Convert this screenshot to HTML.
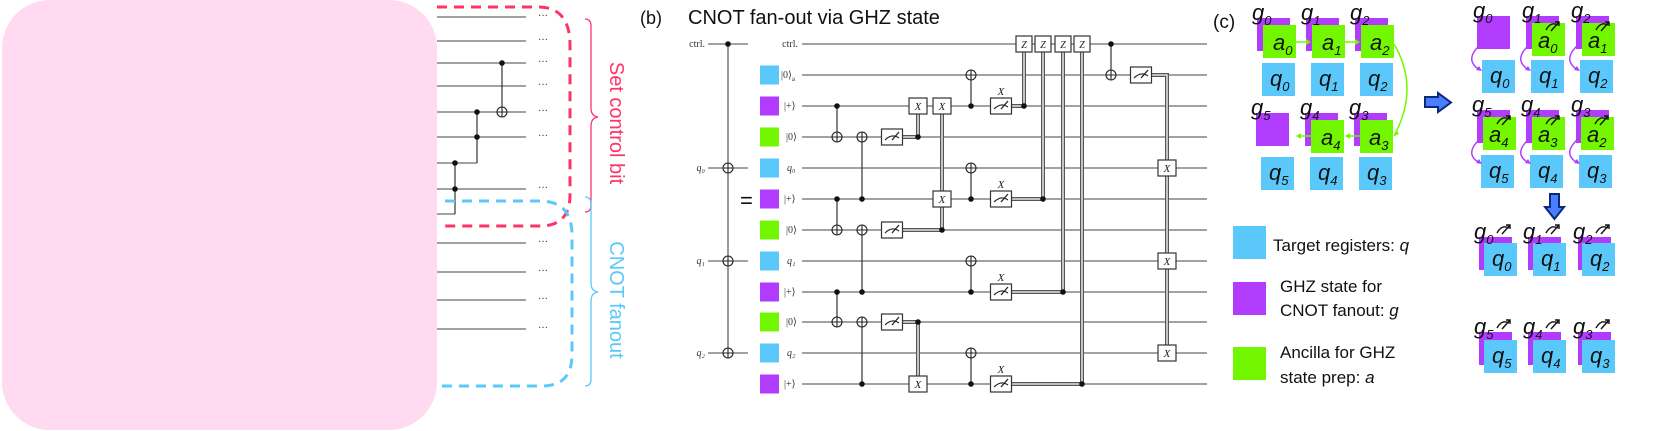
<!DOCTYPE html>
<html><head><meta charset="utf-8"><style>
html,body{margin:0;padding:0;background:#fff}
svg{display:block}
.w{stroke:#444;stroke-width:1.1;fill:none}
.t{font-family:"Liberation Serif",serif;font-size:10px;fill:#333}
.s{font-family:"Liberation Sans",sans-serif}
.i{font-family:"Liberation Sans",sans-serif;font-style:italic;font-size:22px;fill:#111}
.cl1{stroke:#555;stroke-width:4;fill:none}
.cl2{stroke:#fff;stroke-width:1.3;fill:none}
</style></head><body>
<svg width="1660" height="431" viewBox="0 0 1660 431" xmlns="http://www.w3.org/2000/svg">
<defs>
<g id="op"><circle r="5" fill="#fff" stroke="#222" stroke-width="1.1"/><path d="M-5 0H5M0 -5V5" stroke="#222" stroke-width="1.1"/></g>
<g id="ms"><rect x="-10.5" y="-8" width="21" height="16" fill="#fff" stroke="#333" stroke-width="1.2"/><path d="M-7 3 Q0 -4 7 1" stroke="#222" stroke-width="1.1" fill="none"/><path d="M0 3 L7 -5" stroke="#222" stroke-width="1.3"/></g>
<g id="xb"><rect x="-9" y="-8" width="18" height="16" fill="#fff" stroke="#333" stroke-width="1.2"/><text x="0" y="4" text-anchor="middle" font-family="Liberation Serif,serif" font-style="italic" font-size="11" fill="#222">X</text></g>
<g id="zb"><rect x="-8" y="-8" width="16" height="16" fill="#fff" stroke="#333" stroke-width="1.2"/><text x="0" y="4" text-anchor="middle" font-family="Liberation Serif,serif" font-style="italic" font-size="10" fill="#222">Z</text></g>
<g id="mt"><path d="M0 6 Q5 -3 12 1" stroke="#111" stroke-width="1.4" fill="none"/><path d="M5 7 L13 -2 M9 -2 H13 V2" stroke="#111" stroke-width="1.4" fill="none"/></g>
</defs>

<!-- Panel a -->
<rect x="2" y="0" width="435" height="430" rx="48" fill="#ffdaf0"/>
<g class="w">
<path d="M437 17H526M437 41H526M437 63H526M437 86H526M437 112H526M437 137H526M437 163H477M437 189H526M437 214H455M437 243H526M437 272H526M437 300H526M437 329H526"/>
<path d="M502 63V112M477 112V163M455 163V214" stroke="#222"/>
</g>
<g fill="#111"><circle cx="502" cy="63" r="2.8"/><circle cx="477" cy="112" r="2.8"/><circle cx="477" cy="137" r="2.8"/><circle cx="455" cy="163" r="2.8"/><circle cx="455" cy="189" r="2.8"/></g>
<use href="#op" x="502" y="112"/>
<g class="t" font-size="9">
<text x="538" y="19">···</text><text x="538" y="43">···</text><text x="538" y="65">···</text><text x="538" y="88">···</text><text x="538" y="114">···</text><text x="538" y="139">···</text><text x="538" y="191">···</text><text x="538" y="245">···</text><text x="538" y="274">···</text><text x="538" y="302">···</text><text x="538" y="331">···</text>
</g>
<path d="M437 7H538Q570 7 570 45V195Q570 226 540 226H445" stroke="#ff3366" stroke-width="3" fill="none" stroke-dasharray="10 7"/>
<path d="M445 201H540Q572 201 572 235V355Q572 386 542 386H437" stroke="#5ac8fa" stroke-width="3" fill="none" stroke-dasharray="10 7"/>
<path d="M585 19Q591 19 591 26V108Q591 116 598 117Q591 118 591 126V205Q591 212 585 212" stroke="#ff3366" stroke-width="1.3" fill="none"/>
<path d="M585 197Q591 197 591 204V283Q591 291 598 292Q591 293 591 301V379Q591 386 585 386" stroke="#5ac8fa" stroke-width="1.3" fill="none"/>
<text class="s" transform="translate(610,123) rotate(90)" text-anchor="middle" font-size="20" fill="#ff3366">Set control bit</text>
<text class="s" transform="translate(610,300) rotate(90)" text-anchor="middle" font-size="20" fill="#5ac8fa">CNOT fanout</text>

<!-- Panel b -->
<text class="s" x="640" y="24" font-size="18" fill="#111">(b)</text>
<text class="s" x="688" y="24" font-size="20" fill="#111">CNOT fan-out via GHZ state</text>
<text class="t" x="705" y="47" text-anchor="end">ctrl.</text>
<text class="t" x="705" y="171" text-anchor="end" font-style="italic">q₀</text>
<text class="t" x="705" y="264" text-anchor="end" font-style="italic">q₁</text>
<text class="t" x="705" y="356" text-anchor="end" font-style="italic">q₂</text>
<path class="w" d="M708 44H748M708 168H748M708 261H748M708 353H748M728 44V353" stroke="#222"/>
<circle cx="728" cy="44" r="2.8" fill="#111"/>
<use href="#op" x="728" y="168"/><use href="#op" x="728" y="261"/><use href="#op" x="728" y="353"/>
<text class="s" x="740" y="208" font-size="22" fill="#111">=</text>
<g>
<rect x="760" y="65.5" width="19" height="19" fill="#5ac8fa"/>
<rect x="760" y="96.5" width="19" height="19" fill="#b23cfd"/>
<rect x="760" y="127.5" width="19" height="19" fill="#72f700"/>
<rect x="760" y="158.5" width="19" height="19" fill="#5ac8fa"/>
<rect x="760" y="189.5" width="19" height="19" fill="#b23cfd"/>
<rect x="760" y="220.5" width="19" height="19" fill="#72f700"/>
<rect x="760" y="251.5" width="19" height="19" fill="#5ac8fa"/>
<rect x="760" y="282.5" width="19" height="19" fill="#b23cfd"/>
<rect x="760" y="312.5" width="19" height="19" fill="#72f700"/>
<rect x="760" y="343.5" width="19" height="19" fill="#5ac8fa"/>
<rect x="760" y="374.5" width="19" height="19" fill="#b23cfd"/>
</g>
<g class="t">
<text x="798" y="47" text-anchor="end">ctrl.</text>
<text x="781" y="78">|0⟩<tspan font-size="7" dy="3">a</tspan></text>
<text x="784" y="109">|+⟩</text><text x="786" y="140">|0⟩</text><text x="787" y="171" font-style="italic">q₀</text>
<text x="784" y="202">|+⟩</text><text x="786" y="233">|0⟩</text><text x="787" y="264" font-style="italic">q₁</text>
<text x="784" y="295">|+⟩</text><text x="786" y="325">|0⟩</text><text x="787" y="356" font-style="italic">q₂</text>
<text x="784" y="387">|+⟩</text>
</g>
<path class="w" d="M802 44H1207M802 75H1207M802 106H1207M802 137H1207M802 168H1207M802 199H1207M802 230H1207M802 261H1207M802 292H1207M802 322H1207M802 353H1207M802 384H1207"/>
<!-- quantum verticals -->
<path d="M837 106V137M837 199V230M837 292V322M862 137V199M862 230V292M862 322V384M971 75V106M971 168V199M971 261V292M971 353V384M1111 44V75" stroke="#333" stroke-width="1.2" fill="none"/>
<!-- classical -->
<g>
<path class="cl1" d="M903 137H918V114M903 230H942V114M903 322H918V376M1012 106H1024V52M1012 199H1043V52M1012 292H1063V52M1012 384H1082V52M1152 75H1167V353"/>
<path class="cl2" d="M903 137H918V114M903 230H942V114M903 322H918V376M1012 106H1024V52M1012 199H1043V52M1012 292H1063V52M1012 384H1082V52M1152 75H1167V353"/>
</g>
<g fill="#111">
<circle cx="837" cy="106" r="2.8"/><circle cx="837" cy="199" r="2.8"/><circle cx="837" cy="292" r="2.8"/>
<circle cx="862" cy="199" r="2.8"/><circle cx="862" cy="292" r="2.8"/><circle cx="862" cy="384" r="2.8"/>
<circle cx="971" cy="106" r="2.8"/><circle cx="971" cy="199" r="2.8"/><circle cx="971" cy="292" r="2.8"/><circle cx="971" cy="384" r="2.8"/>
<circle cx="1111" cy="44" r="2.8"/>
<circle cx="918" cy="137" r="2.8"/><circle cx="942" cy="230" r="2.8"/><circle cx="918" cy="322" r="2.8"/>
<circle cx="1024" cy="106" r="2.8"/><circle cx="1043" cy="199" r="2.8"/><circle cx="1063" cy="292" r="2.8"/><circle cx="1082" cy="384" r="2.8"/>
</g>
<use href="#op" x="837" y="137"/><use href="#op" x="837" y="230"/><use href="#op" x="837" y="322"/>
<use href="#op" x="862" y="137"/><use href="#op" x="862" y="230"/><use href="#op" x="862" y="322"/>
<use href="#op" x="971" y="75"/><use href="#op" x="971" y="168"/><use href="#op" x="971" y="261"/><use href="#op" x="971" y="353"/>
<use href="#op" x="1111" y="75"/>
<use href="#ms" x="892" y="137"/><use href="#ms" x="892" y="230"/><use href="#ms" x="892" y="322"/>
<use href="#ms" x="1001" y="106"/><use href="#ms" x="1001" y="199"/><use href="#ms" x="1001" y="292"/><use href="#ms" x="1001" y="384"/>
<use href="#ms" x="1141" y="75"/>
<g font-family="Liberation Serif,serif" font-style="italic" font-size="11" fill="#222" text-anchor="middle">
<text x="1001" y="95">X</text><text x="1001" y="188">X</text><text x="1001" y="281">X</text><text x="1001" y="373">X</text>
</g>
<use href="#xb" x="918" y="106"/><use href="#xb" x="942" y="106"/><use href="#xb" x="942" y="199"/><use href="#xb" x="918" y="384"/>
<use href="#xb" x="1167" y="168"/><use href="#xb" x="1167" y="261"/><use href="#xb" x="1167" y="353"/>
<use href="#zb" x="1024" y="44"/><use href="#zb" x="1043" y="44"/><use href="#zb" x="1063" y="44"/><use href="#zb" x="1082" y="44"/>

<!-- Panel c -->
<text class="s" x="1213" y="28" font-size="19" fill="#111">(c)</text>
<g>
<rect x="1257" y="18" width="33" height="33" fill="#b23cfd"/><rect x="1306" y="18" width="33" height="33" fill="#b23cfd"/><rect x="1355" y="18" width="33" height="33" fill="#b23cfd"/>
<rect x="1263" y="25" width="33" height="33" fill="#72f700"/><rect x="1312" y="25" width="33" height="33" fill="#72f700"/><rect x="1361" y="25" width="33" height="33" fill="#72f700"/>
<rect x="1262" y="63" width="33" height="33" fill="#5ac8fa"/><rect x="1311" y="63" width="33" height="33" fill="#5ac8fa"/><rect x="1360" y="63" width="33" height="33" fill="#5ac8fa"/>
<rect x="1256" y="113" width="33" height="33" fill="#b23cfd"/><rect x="1305" y="113" width="33" height="33" fill="#b23cfd"/><rect x="1354" y="113" width="33" height="33" fill="#b23cfd"/>
<rect x="1311" y="120" width="33" height="33" fill="#72f700"/><rect x="1360" y="120" width="33" height="33" fill="#72f700"/>
<rect x="1261" y="157" width="33" height="33" fill="#5ac8fa"/><rect x="1310" y="157" width="33" height="33" fill="#5ac8fa"/><rect x="1359" y="157" width="33" height="33" fill="#5ac8fa"/>
</g>
<g stroke="#72f700" stroke-width="1.5" fill="none">
<path d="M1296 42H1309M1345 42H1358M1394 44Q1420 88 1394 136M1360 136H1347M1311 136H1298"/>
</g>
<g fill="#72f700"><path d="M1311 42l-5-3v6z"/><path d="M1360 42l-5-3v6z"/><path d="M1394 136l2-6 3 4z"/><path d="M1345 136l5-3v6z"/><path d="M1296 136l5-3v6z"/></g>
<g class="i">
<text x="1252" y="20">g<tspan font-size="13" dy="5">0</tspan></text><text x="1301" y="20">g<tspan font-size="13" dy="5">1</tspan></text><text x="1350" y="20">g<tspan font-size="13" dy="5">2</tspan></text>
<text x="1273" y="50">a<tspan font-size="13" dy="5">0</tspan></text><text x="1322" y="50">a<tspan font-size="13" dy="5">1</tspan></text><text x="1370" y="50">a<tspan font-size="13" dy="5">2</tspan></text>
<text x="1270" y="86">q<tspan font-size="13" dy="5">0</tspan></text><text x="1319" y="86">q<tspan font-size="13" dy="5">1</tspan></text><text x="1368" y="86">q<tspan font-size="13" dy="5">2</tspan></text>
<text x="1251" y="115">g<tspan font-size="13" dy="5">5</tspan></text><text x="1300" y="115">g<tspan font-size="13" dy="5">4</tspan></text><text x="1349" y="115">g<tspan font-size="13" dy="5">3</tspan></text>
<text x="1321" y="145">a<tspan font-size="13" dy="5">4</tspan></text><text x="1369" y="145">a<tspan font-size="13" dy="5">3</tspan></text>
<text x="1269" y="180">q<tspan font-size="13" dy="5">5</tspan></text><text x="1318" y="180">q<tspan font-size="13" dy="5">4</tspan></text><text x="1367" y="180">q<tspan font-size="13" dy="5">3</tspan></text>
</g>
<!-- legend -->
<rect x="1233" y="226" width="33" height="33" fill="#5ac8fa"/>
<rect x="1233" y="282" width="33" height="33" fill="#b23cfd"/>
<rect x="1233" y="347" width="33" height="33" fill="#72f700"/>
<g class="s" font-size="17" fill="#111">
<text x="1273" y="251">Target registers: <tspan font-style="italic">q</tspan></text>
<text x="1280" y="292">GHZ state for</text><text x="1280" y="316">CNOT fanout: <tspan font-style="italic">g</tspan></text>
<text x="1280" y="358">Ancilla for GHZ</text><text x="1280" y="383">state prep: <tspan font-style="italic">a</tspan></text>
</g>
<!-- arrows -->
<path d="M1425 97H1438V93L1451 102.5L1438 112V107H1425Z" fill="#4a7dff" stroke="#0a2a7a" stroke-width="2"/>
<path d="M1550 194H1559V207H1564L1554.5 219L1545 207H1550Z" fill="#4a7dff" stroke="#0a2a7a" stroke-width="2"/>
<!-- right group -->
<g>
<rect x="1477" y="16" width="33" height="33" fill="#b23cfd"/><rect x="1526" y="16" width="33" height="33" fill="#b23cfd"/><rect x="1576" y="16" width="33" height="33" fill="#b23cfd"/>
<rect x="1532" y="23" width="33" height="33" fill="#72f700"/><rect x="1582" y="23" width="33" height="33" fill="#72f700"/>
<rect x="1482" y="60" width="33" height="33" fill="#5ac8fa"/><rect x="1531" y="60" width="33" height="33" fill="#5ac8fa"/><rect x="1580" y="60" width="33" height="33" fill="#5ac8fa"/>
<rect x="1477" y="110" width="33" height="33" fill="#b23cfd"/><rect x="1526" y="110" width="33" height="33" fill="#b23cfd"/><rect x="1576" y="110" width="33" height="33" fill="#b23cfd"/>
<rect x="1483" y="117" width="33" height="33" fill="#72f700"/><rect x="1532" y="117" width="33" height="33" fill="#72f700"/><rect x="1581" y="117" width="33" height="33" fill="#72f700"/>
<rect x="1481" y="155" width="33" height="33" fill="#5ac8fa"/><rect x="1530" y="155" width="33" height="33" fill="#5ac8fa"/><rect x="1579" y="155" width="33" height="33" fill="#5ac8fa"/>
<rect x="1479" y="237" width="33" height="33" fill="#b23cfd"/><rect x="1528" y="237" width="33" height="33" fill="#b23cfd"/><rect x="1578" y="237" width="33" height="33" fill="#b23cfd"/>
<rect x="1484" y="243" width="33" height="33" fill="#5ac8fa"/><rect x="1533" y="243" width="33" height="33" fill="#5ac8fa"/><rect x="1582" y="243" width="33" height="33" fill="#5ac8fa"/>
<rect x="1479" y="332" width="33" height="33" fill="#b23cfd"/><rect x="1528" y="332" width="33" height="33" fill="#b23cfd"/><rect x="1578" y="332" width="33" height="33" fill="#b23cfd"/>
<rect x="1484" y="340" width="33" height="33" fill="#5ac8fa"/><rect x="1533" y="340" width="33" height="33" fill="#5ac8fa"/><rect x="1582" y="340" width="33" height="33" fill="#5ac8fa"/>
</g>
<g stroke="#b23cfd" stroke-width="1.5" fill="none">
<path d="M1481 44Q1463 60 1480 70M1530 44Q1512 60 1529 70M1579 44Q1561 60 1578 70M1481 138Q1463 154 1480 163M1530 138Q1512 154 1529 163M1579 138Q1561 154 1578 163"/>
</g>
<g fill="#b23cfd"><path d="M1482 71l-6 -1 3-4z"/><path d="M1531 71l-6 -1 3-4z"/><path d="M1580 71l-6 -1 3-4z"/><path d="M1482 164l-6 -1 3-4z"/><path d="M1531 164l-6 -1 3-4z"/><path d="M1580 164l-6 -1 3-4z"/></g>
<g class="i">
<text x="1473" y="18">g<tspan font-size="13" dy="5">0</tspan></text><text x="1522" y="18">g<tspan font-size="13" dy="5">1</tspan></text><text x="1571" y="18">g<tspan font-size="13" dy="5">2</tspan></text>
<text x="1538" y="48">a<tspan font-size="13" dy="5">0</tspan></text><text x="1588" y="48">a<tspan font-size="13" dy="5">1</tspan></text>
<text x="1490" y="83">q<tspan font-size="13" dy="5">0</tspan></text><text x="1539" y="83">q<tspan font-size="13" dy="5">1</tspan></text><text x="1588" y="83">q<tspan font-size="13" dy="5">2</tspan></text>
<text x="1472" y="112">g<tspan font-size="13" dy="5">5</tspan></text><text x="1521" y="112">g<tspan font-size="13" dy="5">4</tspan></text><text x="1571" y="112">g<tspan font-size="13" dy="5">3</tspan></text>
<text x="1489" y="142">a<tspan font-size="13" dy="5">4</tspan></text><text x="1538" y="142">a<tspan font-size="13" dy="5">3</tspan></text><text x="1587" y="142">a<tspan font-size="13" dy="5">2</tspan></text>
<text x="1489" y="178">q<tspan font-size="13" dy="5">5</tspan></text><text x="1538" y="178">q<tspan font-size="13" dy="5">4</tspan></text><text x="1587" y="178">q<tspan font-size="13" dy="5">3</tspan></text>
<text x="1474" y="239">g<tspan font-size="13" dy="5">0</tspan></text><text x="1523" y="239">g<tspan font-size="13" dy="5">1</tspan></text><text x="1573" y="239">g<tspan font-size="13" dy="5">2</tspan></text>
<text x="1492" y="266">q<tspan font-size="13" dy="5">0</tspan></text><text x="1541" y="266">q<tspan font-size="13" dy="5">1</tspan></text><text x="1590" y="266">q<tspan font-size="13" dy="5">2</tspan></text>
<text x="1474" y="334">g<tspan font-size="13" dy="5">5</tspan></text><text x="1523" y="334">g<tspan font-size="13" dy="5">4</tspan></text><text x="1573" y="334">g<tspan font-size="13" dy="5">3</tspan></text>
<text x="1492" y="363">q<tspan font-size="13" dy="5">5</tspan></text><text x="1541" y="363">q<tspan font-size="13" dy="5">4</tspan></text><text x="1590" y="363">q<tspan font-size="13" dy="5">3</tspan></text>
</g>
<use href="#mt" x="1546" y="24"/><use href="#mt" x="1596" y="24"/>
<use href="#mt" x="1497" y="118"/><use href="#mt" x="1546" y="118"/><use href="#mt" x="1595" y="118"/>
<use href="#mt" x="1497" y="227"/><use href="#mt" x="1546" y="227"/><use href="#mt" x="1596" y="227"/>
<use href="#mt" x="1497" y="322"/><use href="#mt" x="1546" y="322"/><use href="#mt" x="1596" y="322"/>
</svg>
</body></html>
